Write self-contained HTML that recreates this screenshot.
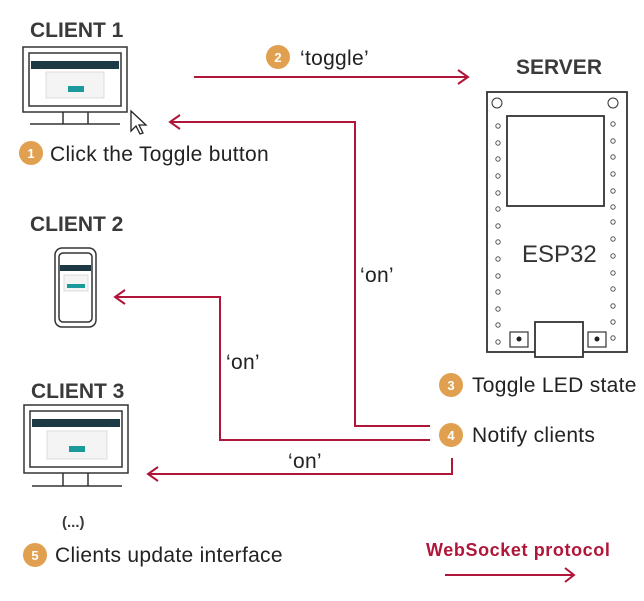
<!DOCTYPE html>
<html><head><style>
body{margin:0;background:#fff;}
svg{display:block;font-family:"Liberation Sans",sans-serif;}
</style></head><body>
<svg width="644" height="601" viewBox="0 0 644 601" xmlns="http://www.w3.org/2000/svg">
<g font-weight="bold" fill="#3a3a3a" font-size="21">
<text x="30" y="37">CLIENT 1</text>
<text x="30" y="231">CLIENT 2</text>
<text x="31" y="398">CLIENT 3</text>
<text x="516" y="74">SERVER</text>
<text x="62" y="527" font-size="15">(...)</text>
</g>
<!-- monitors / phone -->
<g stroke="#333" fill="none" stroke-width="1.5">
<rect x="23" y="47" width="104" height="65"/>
<rect x="29" y="53" width="92" height="53"/>
<path d="M63 112v12M88 112v12M30 124h90"/>
<rect x="24" y="405" width="104" height="68"/>
<rect x="30" y="411" width="92" height="56"/>
<path d="M63 473v13M88 473v13M32 486h90"/>
<rect x="55" y="248" width="41" height="79" rx="7"/>
<rect x="59" y="253" width="33" height="69" rx="4"/>
</g>
<rect x="31" y="61" width="88" height="8" fill="#1d3a44"/>
<rect x="46" y="72" width="58" height="26" fill="#f4f4f4" stroke="#ddd"/>
<rect x="68" y="86" width="16" height="6" fill="#1a9a9a"/>
<rect x="32" y="419" width="88" height="8" fill="#1d3a44"/>
<rect x="47" y="431" width="60" height="28" fill="#f4f4f4" stroke="#ddd"/>
<rect x="69" y="446" width="16" height="6" fill="#1a9a9a"/>
<rect x="60" y="265" width="31" height="6" fill="#1d3a44"/>
<rect x="64" y="275" width="24" height="16" fill="#f4f4f4" stroke="#ddd"/>
<rect x="67" y="284" width="18" height="4" fill="#1a9a9a"/>
<path d="M131 111l0 20 5-5 4 8 3-1-4-8 7 0z" fill="#fff" stroke="#222" stroke-width="1.3"/>
<!-- ESP32 -->
<g stroke="#333" fill="none" stroke-width="1.8">
<rect x="487" y="92" width="140" height="260"/>
<rect x="507" y="116" width="97" height="90"/>
<rect x="535" y="322" width="48" height="35" fill="#fff"/>
<rect x="510" y="332" width="18" height="15" stroke-width="1.2"/>
<rect x="588" y="332" width="18" height="15" stroke-width="1.2"/>
<circle cx="497" cy="103" r="5" stroke-width="1"/>
<circle cx="613" cy="103" r="5" stroke-width="1"/>
</g>
<circle cx="519" cy="339" r="2.5" fill="#222"/><circle cx="597" cy="339" r="2.5" fill="#222"/>
<g fill="none" stroke="#555" stroke-width="1">
<circle cx="498" cy="126" r="2.2"/><circle cx="498" cy="143" r="2.2"/><circle cx="498" cy="159" r="2.2"/><circle cx="498" cy="176" r="2.2"/><circle cx="498" cy="193" r="2.2"/><circle cx="498" cy="209" r="2.2"/><circle cx="498" cy="226" r="2.2"/><circle cx="498" cy="242" r="2.2"/><circle cx="498" cy="259" r="2.2"/><circle cx="498" cy="276" r="2.2"/><circle cx="498" cy="292" r="2.2"/><circle cx="498" cy="309" r="2.2"/><circle cx="498" cy="325" r="2.2"/><circle cx="498" cy="342" r="2.2"/>
<circle cx="613" cy="124" r="2.2"/><circle cx="613" cy="141" r="2.2"/><circle cx="613" cy="157" r="2.2"/><circle cx="613" cy="174" r="2.2"/><circle cx="613" cy="191" r="2.2"/><circle cx="613" cy="207" r="2.2"/><circle cx="613" cy="222" r="2.2"/><circle cx="613" cy="239" r="2.2"/><circle cx="613" cy="256" r="2.2"/><circle cx="613" cy="273" r="2.2"/><circle cx="613" cy="289" r="2.2"/><circle cx="613" cy="306" r="2.2"/><circle cx="613" cy="322" r="2.2"/><circle cx="613" cy="338" r="2.2"/>
</g>
<text x="522" y="262" font-size="24" fill="#333">ESP32</text>
<!-- arrows -->
<g stroke="#b0163a" stroke-width="2" fill="none">
<path d="M194 77H468M458 70l10 7-10 7"/>
<path d="M430 426H355V122H170M180 115l-10 7 10 7"/>
<path d="M430 440H220V297H115M125 290l-10 7 10 7"/>
<path d="M452 458V474H148M158 467l-10 7 10 7"/>
<path d="M445 575H573M565 568l9 7-9 7"/>
</g>
<g font-size="21" fill="#222" letter-spacing="0.3">
<text x="300" y="65">‘toggle’</text>
<text x="360" y="282">‘on’</text>
<text x="226" y="369">‘on’</text>
<text x="288" y="468">‘on’</text>
<text x="50" y="161">Click the Toggle button</text>
<text x="472" y="392">Toggle LED state</text>
<text x="472" y="442">Notify clients</text>
<text x="55" y="562">Clients update interface</text>
</g>
<text x="426" y="556" font-size="18" font-weight="bold" fill="#b0163a" letter-spacing="0.6">WebSocket protocol</text>
<g fill="#e0a050">
<circle cx="31" cy="153" r="12"/><circle cx="278" cy="57" r="12"/><circle cx="451" cy="385" r="12"/><circle cx="451" cy="435" r="12"/><circle cx="35" cy="555" r="12"/>
</g>
<g fill="#fff" font-size="13" font-weight="bold" text-anchor="middle">
<text x="31" y="158">1</text><text x="278" y="62">2</text><text x="451" y="390">3</text><text x="451" y="440">4</text><text x="35" y="560">5</text>
</g>
</svg>
</body></html>
